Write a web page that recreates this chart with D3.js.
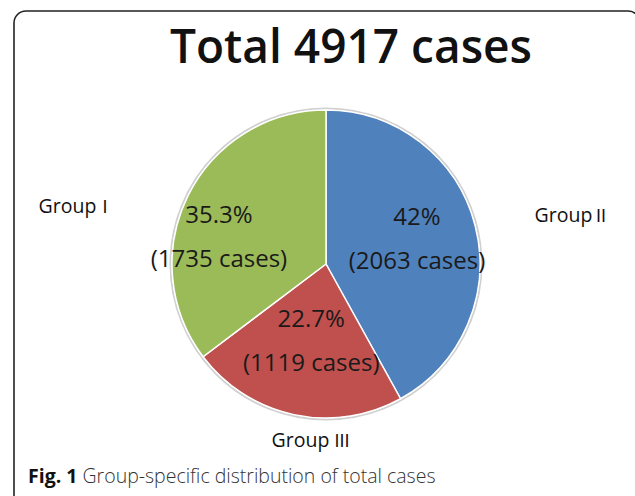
<!DOCTYPE html>
<html>
<head>
<meta charset="utf-8">
<style>
    body { margin: 0; background: #fff; }
    svg { display: block; }
    text { font-family: 'Open Sans', 'Noto Sans', sans-serif; fill: #111; }
    .rn { font-family: 'Noto Sans CJK KR', 'DejaVu Serif', serif; }
</style>
</head>
<body>
<svg width="635" height="496"></svg>
<script src="https://d3js.org/d3.v7.min.js"></script>
<script>
// data
let groups = ["Group II", "Group III", "Group I"]
let groupNames = ["Group", "Group", "Group"]
let numerals = ["\u2161", "\u2162", "\u2160"]
let cases = [2063, 1119, 1735]
let percents = ["42%", "22.7%", "35.3%"]
let colors = ["#4f81bd", "#c0504d", "#9bbb59"]
let total = 4917

let svg = d3.select("svg")

let cx = 326, cy = 264, R = 154

// frame, only top + left visible
svg.append("rect")
    .attr("x", 14).attr("y", 11)
    .attr("width", 626).attr("height", 520)
    .attr("rx", 12)
    .style("fill", "none")
    .style("stroke", "#222")
    .style("stroke-width", 1.6)

svg.append("text")
    .attr("x", 351).attr("y", 63)
    .attr("text-anchor", "middle")
    .attr("textLength", 362)
    .attr("lengthAdjust", "spacingAndGlyphs")
    .style("font-size", "47px")
    .style("font-weight", 600)
    .text("Total " + total + " cases")

let pie = d3.pie().sort(null).value(d => d)
let arcs = pie(cases)
let arc = d3.arc().innerRadius(0).outerRadius(R)

let g = svg.append("g").attr("transform", `translate(${cx},${cy})`)

// soft edge round the pie
g.append("circle")
    .attr("r", R + 1.5)
    .style("fill", "none")
    .style("stroke", "#d0d0d0")
    .style("stroke-width", 2)

g.selectAll("path")
    .data(arcs)
    .join("path")
    .attr("d", arc)
    .style("fill", (d, i) => colors[i])
    .style("stroke", "#fff")
    .style("stroke-width", 1.5)

// inner labels at a label arc, nudged like excel's best fit
let labelArc = d3.arc().innerRadius(95).outerRadius(95)
let shift = [[-1, 7], [5, -8], [-22, 23]]

let lab = g.selectAll(".lab")
    .data(arcs)
    .join("g")
    .attr("class", "lab")
    .attr("transform", (d, i) => {
        let c = labelArc.centroid(d)
        return `translate(${c[0] + shift[i][0]},${c[1] + shift[i][1]})`
    })

lab.append("text")
    .attr("text-anchor", "middle")
    .attr("y", -22)
    .style("font-size", "24px")
    .style("fill", "#1a1a1a")
    .text((d, i) => percents[i])

lab.append("text")
    .attr("text-anchor", "middle")
    .attr("y", 22)
    .style("font-size", "24px")
    .style("fill", "#1a1a1a")
    .text(d => "(" + d.value + " cases)")

// group names around the pie
let outer = [
    { x: R + 92, y: -42 },
    { x: -15, y: R + 29 },
    { x: -R - 96, y: -51 }
]

let grp = g.selectAll(".grp")
    .data(groupNames)
    .join("text")
    .attr("class", "grp")
    .attr("x", (d, i) => outer[i].x)
    .attr("y", (d, i) => outer[i].y)
    .attr("text-anchor", "middle")
    .style("font-size", "19.5px")

grp.append("tspan").text(d => d)
grp.append("tspan")
    .attr("class", "rn")
    .attr("dx", (d, i) => i == 1 ? 4 : 0)
    .style("font-size", "17px")
    .text((d, i) => numerals[i])

let cap = svg.append("text")
    .attr("x", 28).attr("y", 483)
    .style("font-size", "19.5px")
cap.append("tspan").style("font-weight", "bold").text("Fig. 1")
cap.append("tspan").style("fill", "#333").style("font-weight", 300)
    .text(" Group-specific distribution of total cases")
</script>
</body>
</html>
